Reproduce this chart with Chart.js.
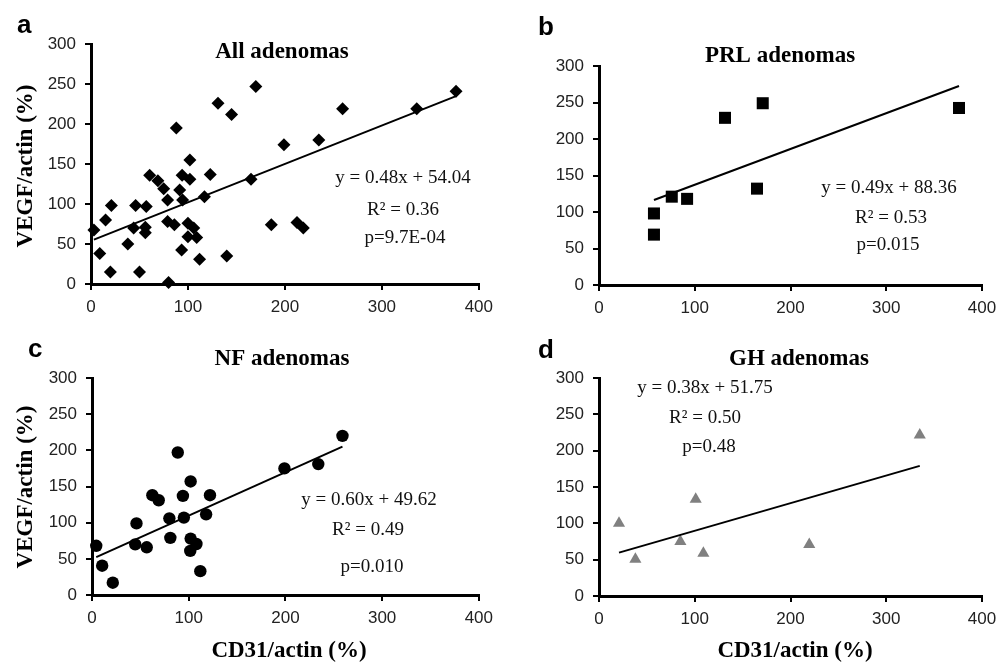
<!DOCTYPE html>
<html>
<head>
<meta charset="utf-8">
<title>VEGF vs CD31 in pituitary adenomas</title>
<script src="https://cdn.jsdelivr.net/npm/chart.js@4.4.1/dist/chart.umd.min.js"></script>
<style>
  html, body { margin: 0; padding: 0; background: #fff; }
  #wrap { position: relative; width: 1005px; height: 663px; overflow: hidden; }
  canvas { position: absolute; }
</style>
</head>
<body>
<div id="wrap">
  <canvas id="chartA" width="500" height="320" style="left:0;top:0;"></canvas>
  <canvas id="chartB" width="505" height="320" style="left:500px;top:0;"></canvas>
  <canvas id="chartC" width="500" height="343" style="left:0;top:320px;"></canvas>
  <canvas id="chartD" width="505" height="343" style="left:500px;top:320px;"></canvas>
</div>
<script>
'use strict';

// ---- data: CD31/actin (%) vs VEGF/actin (%) ----
const allCd31 = [3, 9, 20, 15, 21, 38, 44, 46, 50, 56, 57, 56, 60.5, 69, 75, 79, 79, 86, 80, 88,
  94, 91.5, 94.5, 93.5, 102, 102, 100, 100, 106, 109, 112, 117, 123, 140, 145, 131, 165, 170, 186,
  199, 212.5, 219, 235, 259.5, 336, 376.5];
const allVegf = [67.5, 38, 15, 80, 98, 50, 70, 98, 15, 64, 97, 71, 136, 129, 119, 105, 78, 74, 2, 195,
  136, 117.5, 105, 42.5, 155, 131, 76, 59, 70, 58, 31, 109, 137, 35, 212, 226, 131, 247, 74,
  174, 77, 70, 180, 219, 219, 241];

const prlCd31 = [57.4, 57.4, 76, 92, 131.6, 171, 165, 376];
const prlVegf = [98, 69, 121, 118, 229, 249, 132, 242.5];

const nfCd31 = [4.4, 10.5, 21.5, 46, 44.7, 56.6, 62.4, 69, 80, 81, 88.7, 94, 95, 102, 102, 101.6,
  108, 112, 118, 122, 199, 234, 259];
const nfVegf = [68, 40.5, 17, 99, 70, 66, 138, 131, 106, 79, 197, 137, 107, 157, 78, 61,
  70.5, 33, 111.5, 138, 175, 181, 220];

const ghCd31 = [20.9, 38, 85, 101, 109, 219.6, 335];
const ghVegf = [100, 50.5, 75, 133, 59, 71, 221.5];

// regression fits: [slope, intercept]
const allFit = [0.48, 54.04];
const prlFit = [0.49, 88.36];
const nfFit = [0.60, 49.62];
const ghFit = [0.38, 51.75];

const xTicks = [0, 100, 200, 300, 400];
const yTicks = [0, 50, 100, 150, 200, 250, 300];

const SERIF = '"Liberation Serif", "Times New Roman", serif';
const SANS = '"Liberation Sans", Arial, sans-serif';
const F_LETTER = 'bold 26px ' + SANS;
const F_TITLE = 'bold 23px ' + SERIF;
const F_EQ = '19px ' + SERIF;

function toPoints(xs, ys) {
  return xs.map((x, i) => ({ x: x, y: ys[i] }));
}

function fitLine(xs, fit) {
  const lo = Math.min(...xs), hi = Math.max(...xs);
  return [lo, hi].map(x => ({ x: x, y: fit[0] * x + fit[1] }));
}

// free text: panel letter, title, axis titles, equation block
const panelText = {
  id: 'panelText',
  afterDraw(chart, args, opts) {
    const ctx = chart.ctx;
    (opts.items || []).forEach(t => {
      ctx.save();
      ctx.font = t.font;
      ctx.fillStyle = t.color || '#000';
      ctx.textAlign = t.align || 'center';
      ctx.textBaseline = t.baseline || 'alphabetic';
      ctx.translate(t.x, t.y);
      if (t.rotate) ctx.rotate(t.rotate);
      ctx.fillText(t.text, 0, 0);
      ctx.restore();
    });
  }
};

function makePanel(id, p) {
  const axisFont = { family: SANS, size: 17 };
  return new Chart(document.getElementById(id), {
    type: 'scatter',
    data: {
      datasets: [
        {
          data: toPoints(p.xs, p.ys),
          pointStyle: p.marker,
          pointRadius: p.radius,
          pointHoverRadius: p.radius,
          backgroundColor: p.color,
          borderColor: p.color,
          borderWidth: 0,
          clip: false,
          order: 2
        },
        {
          type: 'line',
          data: fitLine(p.xs, p.fit),
          borderColor: '#000',
          borderWidth: 2,
          pointRadius: 0,
          fill: false,
          clip: false,
          order: 1
        }
      ]
    },
    options: {
      responsive: false,
      animation: false,
      events: [],
      layout: { padding: p.pad },
      plugins: {
        legend: { display: false },
        tooltip: { enabled: false },
        panelText: { items: p.text }
      },
      scales: {
        x: {
          type: 'linear', min: 0, max: 400,
          afterBuildTicks: s => { s.ticks = xTicks.map(v => ({ value: v })); },
          afterFit: s => { s.height = 30; },
          border: { display: true, color: '#000', width: 3 },
          grid: { drawOnChartArea: false, drawTicks: true, tickLength: 6, color: '#000', lineWidth: 2 },
          ticks: { color: '#222', font: axisFont, padding: 7, maxRotation: 0 }
        },
        y: {
          type: 'linear', min: 0, max: 300,
          afterBuildTicks: s => { s.ticks = yTicks.map(v => ({ value: v })); },
          afterFit: s => { s.width = 45; },
          border: { display: true, color: '#000', width: 3 },
          grid: { drawOnChartArea: false, drawTicks: true, tickLength: 6, color: '#000', lineWidth: 2 },
          ticks: { color: '#222', font: axisFont, padding: 9 }
        }
      }
    },
    plugins: [panelText]
  });
}

const UP = -Math.PI / 2;

makePanel('chartA', {
  xs: allCd31, ys: allVegf, fit: allFit,
  marker: 'rectRot', radius: 6.5, color: '#000',
  pad: { left: 46, right: 17, top: 44, bottom: 6 },
  text: [
    { text: 'a', x: 17, y: 33, font: F_LETTER, align: 'left' },
    { text: 'All adenomas', x: 282, y: 58, font: F_TITLE },
    { text: 'VEGF/actin (%)', x: 26, y: 166, font: F_TITLE, rotate: UP, baseline: 'middle' },
    { text: 'y = 0.48x + 54.04', x: 403, y: 183, font: F_EQ, color: '#111' },
    { text: 'R² = 0.36', x: 403, y: 215, font: F_EQ, color: '#111' },
    { text: 'p=9.7E-04', x: 405, y: 243, font: F_EQ, color: '#111' }
  ]
});

makePanel('chartB', {
  xs: prlCd31, ys: prlVegf, fit: prlFit,
  marker: 'rect', radius: 8.5, color: '#000',
  pad: { left: 54, right: 23, top: 66, bottom: 5 },
  text: [
    { text: 'b', x: 38, y: 35, font: F_LETTER, align: 'left' },
    { text: 'PRL adenomas', x: 280, y: 62, font: F_TITLE },
    { text: 'y = 0.49x + 88.36', x: 389, y: 193, font: F_EQ, color: '#111' },
    { text: 'R² = 0.53', x: 391, y: 223, font: F_EQ, color: '#111' },
    { text: 'p=0.015', x: 388, y: 250, font: F_EQ, color: '#111' }
  ]
});

makePanel('chartC', {
  xs: nfCd31, ys: nfVegf, fit: nfFit,
  marker: 'circle', radius: 6.2, color: '#000',
  pad: { left: 47, right: 17, top: 58, bottom: 38 },
  text: [
    { text: 'c', x: 28, y: 37, font: F_LETTER, align: 'left' },
    { text: 'NF adenomas', x: 282, y: 45, font: F_TITLE },
    { text: 'VEGF/actin (%)', x: 26, y: 167, font: F_TITLE, rotate: UP, baseline: 'middle' },
    { text: 'CD31/actin (%)', x: 289, y: 337, font: F_TITLE },
    { text: 'y = 0.60x + 49.62', x: 369, y: 185, font: F_EQ, color: '#111' },
    { text: 'R² = 0.49', x: 368, y: 215, font: F_EQ, color: '#111' },
    { text: 'p=0.010', x: 372, y: 252, font: F_EQ, color: '#111' }
  ]
});

makePanel('chartD', {
  xs: ghCd31, ys: ghVegf, fit: ghFit,
  marker: 'triangle', radius: 7, color: '#808080',
  pad: { left: 54, right: 23, top: 58, bottom: 37 },
  text: [
    { text: 'd', x: 38, y: 38, font: F_LETTER, align: 'left' },
    { text: 'GH adenomas', x: 299, y: 45, font: F_TITLE },
    { text: 'CD31/actin (%)', x: 295, y: 337, font: F_TITLE },
    { text: 'y = 0.38x + 51.75', x: 205, y: 73, font: F_EQ, color: '#111' },
    { text: 'R² = 0.50', x: 205, y: 103, font: F_EQ, color: '#111' },
    { text: 'p=0.48', x: 209, y: 132, font: F_EQ, color: '#111' }
  ]
});
</script>
</body>
</html>
